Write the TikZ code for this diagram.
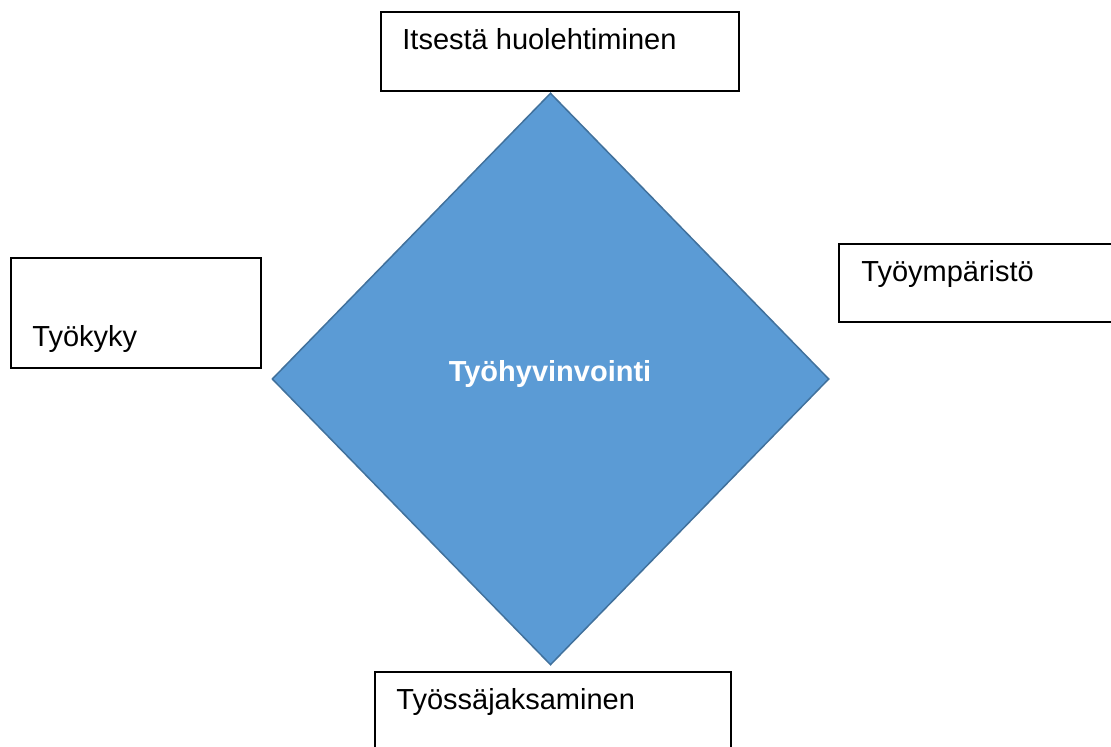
\documentclass[tikz,border=0pt]{standalone}
\usepackage{fontspec}
\setmainfont{Liberation Sans}
\usetikzlibrary{shapes.geometric}
\definecolor{hubfill}{HTML}{5B9BD5}
\definecolor{hubline}{HTML}{41719C}
\tikzset{
  box/.style={draw=black, fill=white, line width=0.6pt, inner sep=0pt},
  boxtext/.style={anchor=base west, inner sep=0pt, font=\fontsize{14.5}{17}\selectfont},
  hub/.style={diamond, draw=hubline, fill=hubfill, line width=0.75pt, inner sep=0pt,
    text=white, font=\fontsize{14.5}{17}\selectfont\bfseries}
}
\begin{document}
\begin{tikzpicture}[x=0.5pt, y=-0.5pt]
  \useasboundingbox (0,0) rectangle (1111,747);
  % keskella
  \node[hub, minimum width=278.5pt, minimum height=286pt] (hub) at (550.5,379) {};
  \node[text=white, font=\fontsize{14.5}{17}\selectfont\bfseries, inner sep=0pt, anchor=base]
    (hubtext) at (550,382) {Työhyvinvointi};
  % laatikot
  \node[box, minimum width=179pt, minimum height=39.5pt] (itse) at (560,51.5) {};
  \node[box, minimum width=125pt, minimum height=55pt] (kyky) at (136,313) {};
  \node[box, minimum width=138pt, minimum height=39pt] (ymp) at (977,283) {};
  \node[box, minimum width=178pt, minimum height=40pt] (jaks) at (553,712) {};
  \node[boxtext] (itsetext) at (402,50) {Itsestä huolehtiminen};
  \node[boxtext] (kykytext) at (32,347) {Työkyky};
  \node[boxtext] (ymptext) at (861,282) {Työympäristö};
  \node[boxtext] (jakstext) at (396,709) {Työssäjaksaminen};
\end{tikzpicture}
\end{document}
